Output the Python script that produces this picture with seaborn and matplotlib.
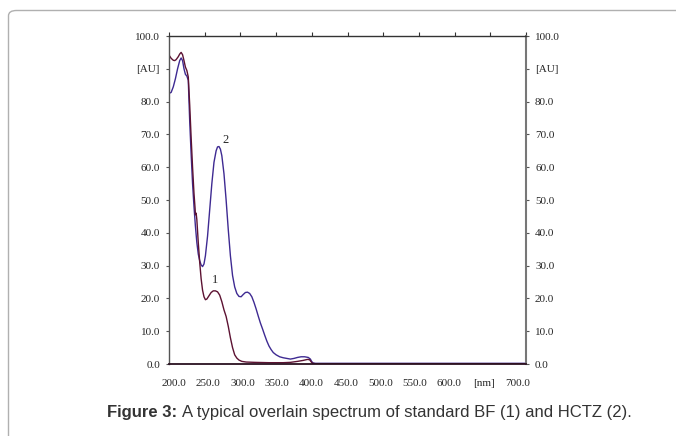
import numpy as np
import pandas as pd
import seaborn as sns
import matplotlib.pyplot as plt
import matplotlib.transforms as mtransforms
from matplotlib.patches import FancyBboxPatch

# curve 2 : HCTZ (nm, AU)
hctz_nm = [200, 203, 206, 209, 212, 215, 217, 219, 221, 223, 225, 227, 229, 231, 233, 235,
           237, 239, 241, 243, 245, 247, 249, 251, 254, 257, 260, 263, 266, 268, 270, 272,
           274, 277, 280, 283, 286, 289, 292, 295, 298, 301, 304, 307, 310, 313, 316, 319,
           322, 325, 328, 331, 334, 337, 340, 343, 346, 350, 355, 360, 365, 370, 375, 380,
           385, 390, 395, 398, 400, 402, 405, 500, 600, 700]
hctz_au = [82.5, 82.8, 84.5, 87.0, 90.0, 92.5, 93.3, 92.5, 90.0, 88.3, 87.8, 86.5, 74.0, 64.0,
           55.0, 48.0, 42.0, 37.0, 33.5, 31.5, 30.2, 29.7, 30.5, 33.0, 39.0, 47.0, 55.0, 61.5,
           65.0, 66.2, 66.3, 65.5, 63.5, 58.0, 50.0, 41.0, 33.0, 27.0, 23.5, 21.5, 20.6, 20.5,
           21.2, 21.8, 21.9, 21.5, 20.5, 18.8, 16.8, 14.6, 12.5, 10.7, 8.8, 7.0, 5.5, 4.4,
           3.5, 2.8, 2.2, 1.9, 1.7, 1.5, 1.7, 2.0, 2.2, 2.2, 2.0, 1.5, 0.7, 0.3, 0.2, 0.2,
           0.2, 0.2]

# curve 1 : BF (nm, AU)
bf_nm = [200, 203, 206, 208, 210, 213, 215, 217, 219, 221, 223, 225, 227, 229, 231, 233,
         235, 236.5, 237, 238, 239, 241, 243, 245, 247, 249, 251, 253, 256, 259, 262, 265,
         268, 271, 274, 277, 280, 283, 286, 289, 292, 295, 298, 302, 308, 320, 340, 360,
         370, 380, 388, 394, 397, 399, 401, 405, 500, 600, 700]
bf_au = [94.2, 93.2, 92.6, 92.5, 92.8, 93.7, 94.5, 95.0, 94.3, 92.5, 90.5, 89.5, 87.5, 79.0,
         69.0, 60.0, 52.0, 47.5, 45.5, 46.0, 44.0, 37.0, 31.0, 26.0, 22.5, 20.5, 19.6, 19.8,
         20.8, 21.8, 22.3, 22.3, 22.0, 21.0, 19.0, 16.5, 14.5, 11.5, 8.0, 5.0, 2.8, 1.8,
         1.2, 0.8, 0.6, 0.5, 0.4, 0.4, 0.5, 0.8, 1.1, 1.4, 1.3, 0.7, 0.2, 0.1, 0.1, 0.1,
         0.1]

x_ticks = [200, 250, 300, 350, 400, 450, 500, 550, 600, 650, 700]
x_labels = ['200.0', '250.0', '300.0', '350.0', '400.0', '450.0', '500.0', '550.0',
            '600.0', '[nm]', '700.0']
y_ticks = [0, 10, 20, 30, 40, 50, 60, 70, 80, 90, 100]
y_labels = ['0.0', '10.0', '20.0', '30.0', '40.0', '50.0', '60.0', '70.0', '80.0',
            '[AU]', '100.0']

sns.set_style("white")
plt.rcParams['font.family'] = ['Liberation Serif', 'DejaVu Serif']

fig = plt.figure(figsize=(6.76, 4.36), dpi=100)

# rounded frame (only the top-left corner is inside the picture)
frame = FancyBboxPatch((8.5 / 676, -1.0), 2.0, 1.0 + (436 - 10.5) / 436,
                       boxstyle="round,pad=0,rounding_size=0.012",
                       transform=fig.transFigure, fill=False,
                       edgecolor='#b0b0b0', linewidth=1.0)
fig.patches.append(frame)

ax = fig.add_axes([169 / 676, (436 - 364) / 436, 357 / 676, 328 / 436])

df2 = pd.DataFrame({'nm': hctz_nm, 'au': hctz_au})
df1 = pd.DataFrame({'nm': bf_nm, 'au': bf_au})
sns.lineplot(data=df2, x='nm', y='au', ax=ax, color='#3e2a92', linewidth=1.0,
             sort=False, estimator=None)
sns.lineplot(data=df1, x='nm', y='au', ax=ax, color='#5c1232', linewidth=1.0,
             sort=False, estimator=None)

ax.text(279, 68.3, '2', fontsize=9, ha='center', va='center')
ax.text(265, 25.7, '1', fontsize=9, ha='center', va='center')

ax.set_xlim(200, 700)
ax.set_ylim(0, 100)
ax.set_xlabel('')
ax.set_ylabel('')
ax.set_xticks(x_ticks)
ax.set_xticklabels(x_labels)
ax.set_yticks(y_ticks)
ax.set_yticklabels(y_labels)

ax.tick_params(axis='x', bottom=False, top=True, labelbottom=True, labeltop=False,
               direction='out', length=3, width=0.8, color='#333333',
               labelsize=8, pad=8)
ax.tick_params(axis='y', left=True, right=True, labelleft=True, labelright=True,
               direction='out', length=2.5, width=0.8, color='#555555',
               labelsize=8, pad=4)

# x labels are squeezed a little towards the middle in the original
for i, lbl in enumerate(ax.get_xticklabels()):
    dx = (5 - 13 * i / 10) / 100
    lbl.set_transform(lbl.get_transform() +
                      mtransforms.ScaledTranslation(dx, 0, fig.dpi_scale_trans))

ax.spines['top'].set_color('#333333')
ax.spines['top'].set_linewidth(1.0)
ax.spines['bottom'].set_color('#2a1020')
ax.spines['bottom'].set_linewidth(1.3)
ax.spines['left'].set_color('#555555')
ax.spines['left'].set_linewidth(1.0)
ax.spines['right'].set_color('#777777')
ax.spines['right'].set_linewidth(1.5)

cap_y = (436 - 412) / 436
t1 = fig.text(107 / 676, cap_y, 'Figure 3:', fontsize=12, fontweight='bold',
              family=['Liberation Sans', 'DejaVu Sans'], color='#333333', va='center')
fig.canvas.draw()
bb = t1.get_window_extent()
fig.text((bb.x1 + 5) / 676, cap_y,
         'A typical overlain spectrum of standard BF (1) and HCTZ (2).',
         fontsize=12, family=['Liberation Sans', 'DejaVu Sans'], color='#333333',
         va='center')

fig.savefig('out.png', dpi=100)
